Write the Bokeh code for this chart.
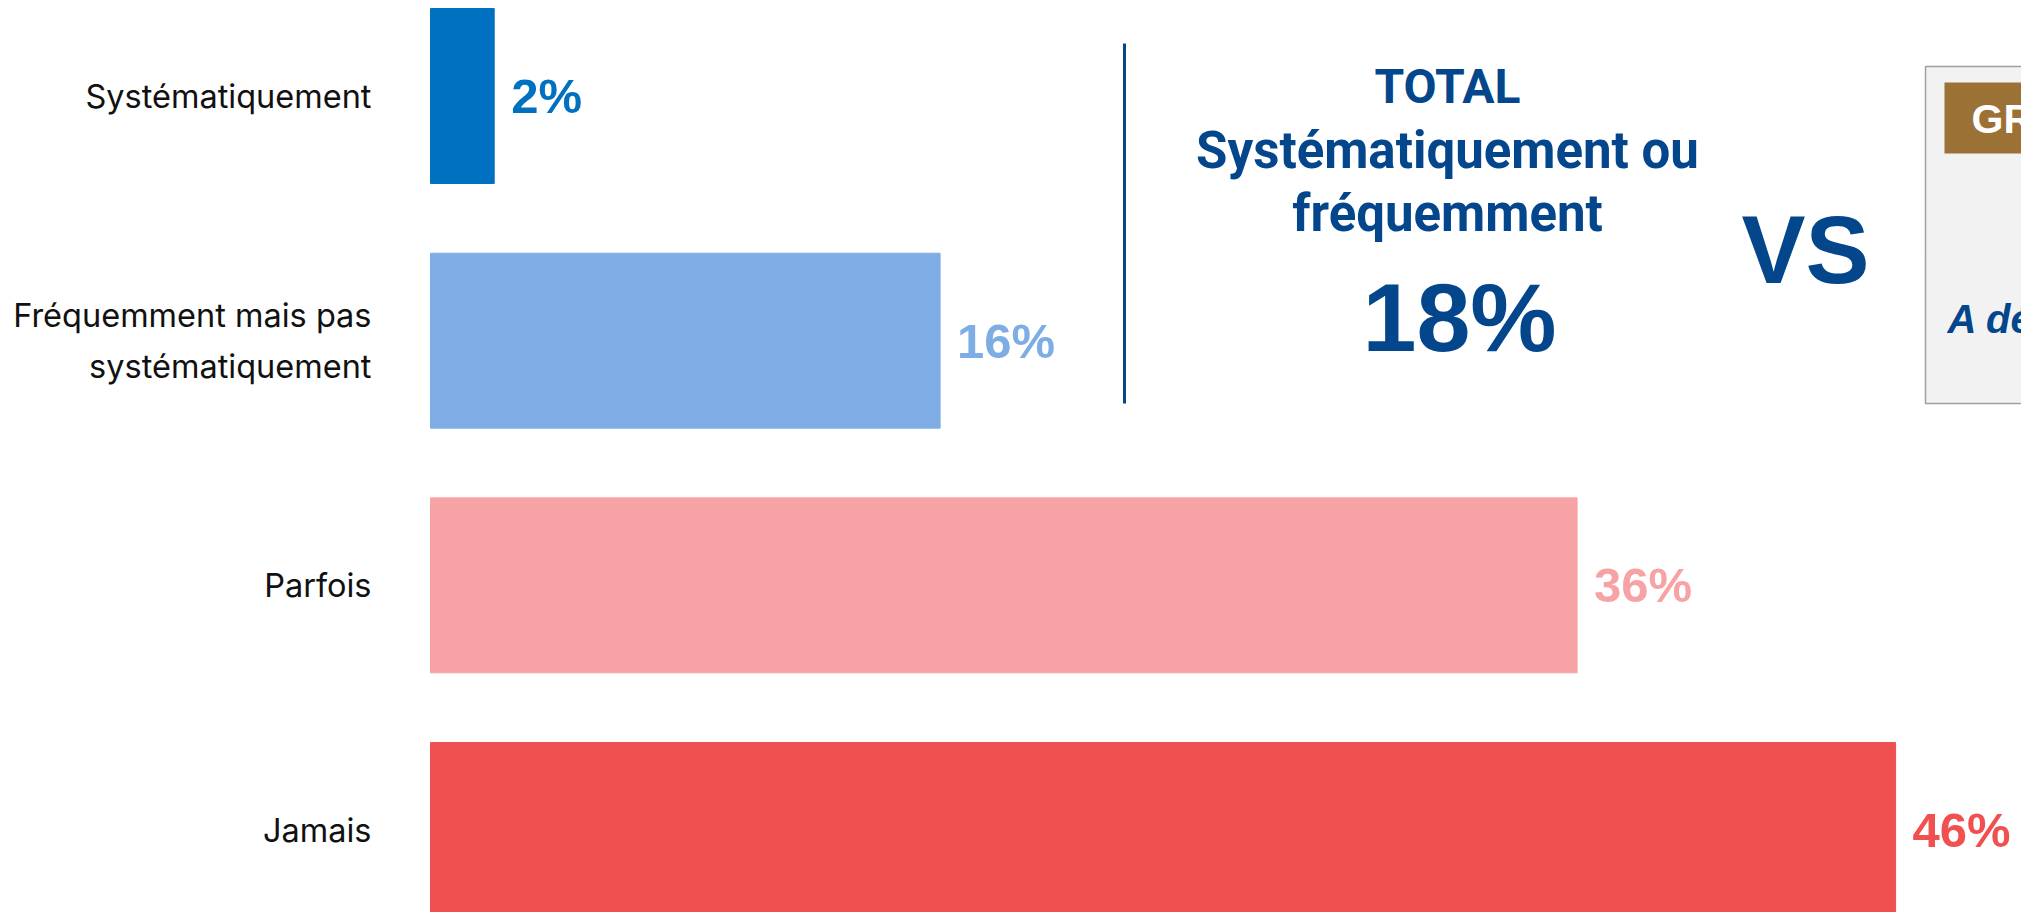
from bokeh.plotting import figure
from bokeh.models import Range1d, ColumnDataSource
from bokeh.core.properties import value
from bokeh.embed import file_html
from bokeh.resources import INLINE

# ---- data ----
categories = ["Systématiquement", "Fréquemment mais pas\nsystématiquement", "Parfois", "Jamais"]
values = [2, 16, 36, 46]
colors = ["#0070C0", "#7EADE6", "#F7A3A5", "#F05050"]
total_title = ["TOTAL", "Systématiquement ou", "fréquemment"]
vs_text = "VS"
box_header = "GR"
box_text = "A dé"

# ---- layout helpers (page pixels -> data) ----
W, H = 2021, 912
PAGE = 0
PX = 31.85            # pixels per percent
X0_PAGE = 430         # page x of value 0
PY = 244.67           # pixels per category step
Y0_PAGE = 95.5        # page y of first category centre
x_start = -(X0_PAGE - PAGE) / PX
x_end = x_start + W / PX
y_top = -(Y0_PAGE - PAGE) / PY
y_bottom = y_top + H / PY


def dx(px):
    return x_start + (px - PAGE) / PX


def dy(py):
    return y_top + (py - PAGE) / PY


NAVY = "#03468C"

p = figure(width=W, height=H, x_range=Range1d(x_start, x_end),
           y_range=Range1d(y_bottom, y_top), output_backend="svg",
           toolbar_location=None, min_border=0)
p.axis.visible = False
p.grid.visible = False
p.outline_line_color = None
p.background_fill_color = "white"
p.border_fill_color = "white"

src = ColumnDataSource(dict(
    y=list(range(len(categories))),
    value=values,
    color=colors,
    cat=categories,
    label=[f"{v}%" for v in values],
))

p.hbar(y="y", left=0, right="value", height=0.715, color="color", source=src)

p.text(x="value", y="y", text="label", source=src, x_offset=17,
       text_align="left", text_baseline="middle", text_color="color",
       text_font=value("Liberation Sans"), text_font_style="bold",
       text_font_size="49px")

p.text(x=0, y="y", text="cat", source=src, x_offset=-59,
       text_align="right", text_baseline="middle", text_color="#111111",
       text_font=value("Inter"), text_font_size="32.5px", text_line_height=1.3)

# separator line
p.segment(x0=[dx(1124)], y0=[dy(43)], x1=[dx(1124)], y1=[dy(403)],
          line_color=NAVY, line_width=3)

# right box (cut off at the page edge)
p.quad(left=[dx(1925)], right=[dx(2200)], top=[dy(66)], bottom=[dy(403)],
       fill_color="#F2F2F2", line_color="#A0A0A0", line_width=1.5)
p.quad(left=[dx(1944)], right=[dx(2200)], top=[dy(82)], bottom=[dy(153)],
       fill_color="#9B7136", line_color="#9B7136", line_width=0)

# TOTAL block (y = centre of capitals)
cx = dx(1447)
for txt, mid, size in zip(total_title, [86, 150, 213], ["48px", "51px", "51px"]):
    p.text(x=[cx], y=[dy(mid)], text=[txt], text_align="center",
           text_baseline="alphabetic", text_color=NAVY,
           text_font=value("Roboto"), text_font_style="bold",
           text_font_size=size)

p.text(x=[dx(1459)], y=[dy(317)], text=[f"{values[0] + values[1]}%"],
       text_align="center", text_baseline="alphabetic", text_color=NAVY,
       text_font=value("Liberation Sans"), text_font_style="bold",
       text_font_size="97px")

p.text(x=[dx(1805)], y=[dy(249)], text=[vs_text], text_align="center",
       text_baseline="alphabetic", text_color=NAVY,
       text_font=value("Liberation Sans"), text_font_style="bold",
       text_font_size="96px")

p.text(x=[dx(1971)], y=[dy(118)], text=[box_header], text_align="left",
       text_baseline="alphabetic", text_color="white",
       text_font=value("Liberation Sans"), text_font_style="bold",
       text_font_size="41px")
p.text(x=[dx(1947)], y=[dy(318)], text=[box_text], text_align="left",
       text_baseline="alphabetic", text_color=NAVY,
       text_font=value("Liberation Sans"), text_font_style="bold italic",
       text_font_size="40px")

open("out.html", "w").write(file_html(p, INLINE))
